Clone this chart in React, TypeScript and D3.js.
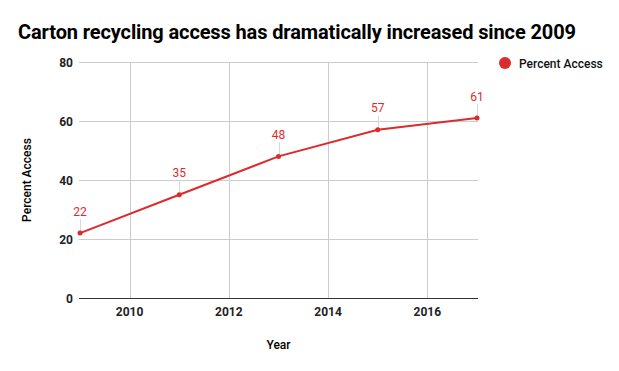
import { useEffect, useRef } from "react"
import * as d3 from "d3"

const years = [2009, 2011, 2013, 2015, 2017]
const percentAccess = [22, 35, 48, 57, 61]
const yTicks = [0, 20, 40, 60, 80]
const xTicks = [2010, 2012, 2014, 2016]
const seriesName = "Percent Access"

const width = 619
const height = 371
const red = "#dc2b2b"
const font = "Roboto, sans-serif"

export default function App() {
  const svgRef = useRef<SVGSVGElement>(null)

  useEffect(() => {
    if (!svgRef.current) return
    const svg = d3.select(svgRef.current)
    svg.selectAll("*").remove()

    const margin = { top: 62, right: 142, bottom: 73, left: 80 }
    const x = d3.scaleLinear().domain([2009, 2017]).range([margin.left, width - margin.right])
    const y = d3.scaleLinear().domain([0, 80]).range([height - margin.bottom, margin.top])

    svg.append("rect").attr("width", width).attr("height", height).attr("fill", "#fff")

    // titulo
    svg
      .append("text")
      .attr("x", 18)
      .attr("y", 39)
      .attr("font-family", font)
      .attr("font-weight", "bold")
      .attr("font-size", 20)
      .attr("fill", "#000")
      .attr("textLength", 558)
      .attr("lengthAdjust", "spacing")
      .text("Carton recycling access has dramatically increased since 2009")

    // grade horizontal
    svg
      .append("g")
      .selectAll("line")
      .data(yTicks.filter((t) => t > 0))
      .enter()
      .append("line")
      .attr("x1", margin.left - 1)
      .attr("x2", width - margin.right + 1)
      .attr("y1", (d) => Math.round(y(d)) + 0.5)
      .attr("y2", (d) => Math.round(y(d)) + 0.5)
      .attr("stroke", "#cccccc")

    // grade vertical
    svg
      .append("g")
      .selectAll("line")
      .data(xTicks)
      .enter()
      .append("line")
      .attr("x1", (d) => Math.round(x(d)) + 0.5)
      .attr("x2", (d) => Math.round(x(d)) + 0.5)
      .attr("y1", y(80))
      .attr("y2", y(0))
      .attr("stroke", "#cccccc")

    // eixo zero
    svg
      .append("line")
      .attr("x1", margin.left - 1)
      .attr("x2", width - margin.right + 1)
      .attr("y1", Math.round(y(0)) + 0.5)
      .attr("y2", Math.round(y(0)) + 0.5)
      .attr("stroke", "#333")

    // rotulos y
    svg
      .append("g")
      .selectAll("text")
      .data(yTicks)
      .enter()
      .append("text")
      .attr("x", 73)
      .attr("y", (d) => y(d) + 4.5)
      .attr("text-anchor", "end")
      .attr("font-family", font)
      .attr("font-weight", "bold")
      .attr("font-size", 12)
      .attr("fill", "#222")
      .text((d) => d)

    // rotulos x
    svg
      .append("g")
      .selectAll("text")
      .data(xTicks)
      .enter()
      .append("text")
      .attr("x", (d) => x(d))
      .attr("y", 316)
      .attr("text-anchor", "middle")
      .attr("font-family", font)
      .attr("font-weight", "bold")
      .attr("font-size", 12)
      .attr("fill", "#222")
      .text((d) => d)

    // titulos dos eixos
    svg
      .append("text")
      .attr("x", (x(2009) + x(2017)) / 2)
      .attr("y", 349)
      .attr("text-anchor", "middle")
      .attr("font-family", font)
      .attr("font-weight", 500)
      .attr("font-size", 12)
      .attr("fill", "#000")
      .text("Year")

    svg
      .append("text")
      .attr("transform", `translate(31, ${(y(0) + y(80)) / 2}) rotate(-90)`)
      .attr("text-anchor", "middle")
      .attr("font-family", font)
      .attr("font-weight", 500)
      .attr("font-size", 12)
      .attr("fill", "#000")
      .text("Percent Access")

    const data = years.map((yr, i) => ({ year: yr, value: percentAccess[i] }))

    // linhas guia dos rotulos
    svg
      .append("g")
      .selectAll("line")
      .data(data)
      .enter()
      .append("line")
      .attr("x1", (d) => Math.round(x(d.year)) + 0.5)
      .attr("x2", (d) => Math.round(x(d.year)) + 0.5)
      .attr("y1", (d) => y(d.value) - 14)
      .attr("y2", (d) => y(d.value))
      .attr("stroke", "#d8d8d8")

    const line = d3
      .line<{ year: number; value: number }>()
      .x((d) => x(d.year))
      .y((d) => y(d.value))

    svg
      .append("path")
      .datum(data)
      .attr("d", line)
      .attr("fill", "none")
      .attr("stroke", red)
      .attr("stroke-width", 2)

    svg
      .append("g")
      .selectAll("circle")
      .data(data)
      .enter()
      .append("circle")
      .attr("cx", (d) => x(d.year))
      .attr("cy", (d) => y(d.value))
      .attr("r", 2.5)
      .attr("fill", red)

    // rotulos de dados
    svg
      .append("g")
      .selectAll("text")
      .data(data)
      .enter()
      .append("text")
      .attr("x", (d) => x(d.year))
      .attr("y", (d) => y(d.value) - 17.5)
      .attr("text-anchor", "middle")
      .attr("font-family", font)
      .attr("font-size", 12)
      .attr("fill", red)
      .text((d) => d.value)

    // legenda
    const legend = svg.append("g").attr("transform", "translate(505, 63)")
    legend.append("circle").attr("r", 6).attr("fill", red)
    legend
      .append("text")
      .attr("x", 14)
      .attr("y", 4.5)
      .attr("font-family", font)
      .attr("font-weight", 500)
      .attr("font-size", 12)
      .attr("fill", "#111")
      .text(seriesName)
  }, [])

  return (
    <div style={{ position: "absolute", left: 0, top: 0 }}>
      <svg ref={svgRef} width={width} height={height} style={{ display: "block" }} />
    </div>
  )
}
